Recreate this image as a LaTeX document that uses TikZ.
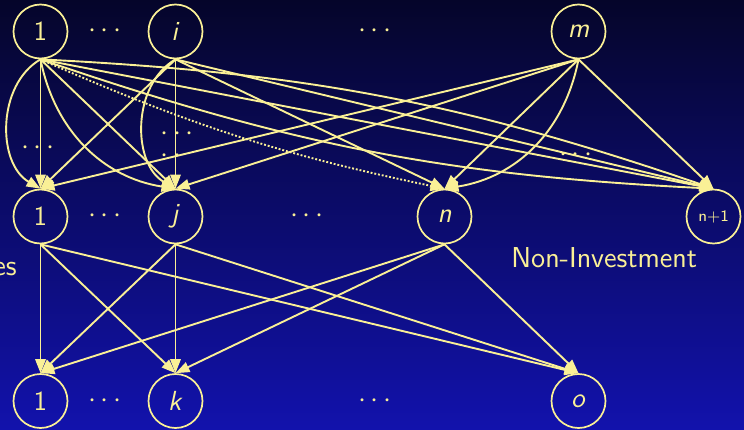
\documentclass[tikz,border=0pt]{standalone}
\usepackage{fontspec}
\usepackage{tikz}
\usetikzlibrary{arrows.meta}
\definecolor{chalk}{RGB}{250,240,150}
\definecolor{navytop}{RGB}{5,5,42}
\definecolor{navybot}{RGB}{18,18,172}

\begin{document}
\begin{tikzpicture}[x=0.5pt, y=-0.5pt,
		unit/.style={draw=chalk, circle, line width=0.85pt, minimum size=27pt, inner sep=0pt, text=chalk, font=\fontsize{13.8}{16}\sffamily},
		gap/.style={text=chalk, inner sep=0pt, font=\fontsize{14.4}{11}\selectfont},
		flow/.style={draw=chalk, line width=0.95pt, -{Triangle[length=7pt,width=5.2pt]}},
		faint/.style={dash pattern=on 0.95pt off 0.95pt}]
			\shade[top color=navytop, bottom color=navybot] (0,0) rectangle (744,429);
			\useasboundingbox (0,0) rectangle (744,429);

			\draw (40.5, 31.5) 	node[unit] 	(t1) 		{1};
			\draw (175.5, 31.5) 	node[unit] 	(ti) 		{\textsl{i}};
			\draw (578.5, 31.5) 	node[unit] 	(tm) 		{\textsl{m}};
			\draw (40.5, 216.5) 	node[unit] 	(m1) 		{1};
			\draw (175.5, 216.5) 	node[unit] 	(mj) 		{\textsl{j}};
			\draw (444.5, 216.5) 	node[unit] 	(mn) 		{\textsl{n}};
			\draw (713.5, 216.5) 	node[unit, font=\fontsize{8}{10}\sffamily] 	(mn1) 	{n+1};
			\draw (40.5, 401) 	node[unit] 	(b1) 		{1};
			\draw (175.5, 401) 	node[unit] 	(bk) 		{\textsl{k}};
			\draw (578.5, 401) 	node[unit] 	(bo) 		{\textsl{o}};

			\draw (105, 31) 	node[gap] 	(topa) 		{$\cdots$};
			\draw (375, 31) 	node[gap] 	(topb) 		{$\cdots$};
			\draw (105, 216) 	node[gap] 	(mida) 		{$\cdots$};
			\draw (307, 216) 	node[gap] 	(midb) 		{$\cdots$};
			\draw (105, 401) 	node[gap] 	(bota) 		{$\cdots$};
			\draw (375, 401) 	node[gap] 	(botb) 		{$\cdots$};
			\draw (38, 148) 	node[gap] 	(manya) 	{$\cdots$};
			\draw (160, 145) 	node[gap, anchor=west, align=left] 	(manyb) 	{$\cdots$\\$\mathinner{\cdotp\cdotp}$};
			\draw (576, 155) 	node[gap] 	(manyd) 	{$\cdots$};

			\draw (511, 267) 	node[anchor=base west, gap, font=\fontsize{14.4}{17}\sffamily] 	(noninv) 	{Non-Investment};
			\draw (17, 275) 	node[anchor=base east, gap, font=\fontsize{14.4}{17}\sffamily] 	(cut) 		{es};

			\draw[flow] (t1.south) -- (m1.north);
			\draw[flow] (t1.south) to[bend right=60] (m1.north);
			\draw[flow] (t1.south) -- (mj.north);
			\draw[flow] (t1.south) to[bend right=35] (mj.north);
			\draw[flow, faint] (t1.south) to[bend right=6] (mn.north);
			\draw[flow] (t1.south) -- (mn1.north);
			\draw[flow] (t1.south) to[bend right=8] (mn1.north);
			\draw[flow] (t1.south) to[bend left=8] (mn1.north);
			\draw[flow] (ti.south) -- (m1.north);
			\draw[flow] (ti.south) -- (mj.north);
			\draw[flow] (ti.south) to[bend right=60] (mj.north);
			\draw[flow] (ti.south) -- (mn.north);
			\draw[flow] (ti.south) -- (mn1.north);
			\draw[flow] (tm.south) -- (m1.north);
			\draw[flow] (tm.south) -- (mj.north);
			\draw[flow] (tm.south) -- (mn.north);
			\draw[flow] (tm.south) to[bend left=35] (mn.north);
			\draw[flow] (tm.south) -- (mn1.north);

			\draw[flow] (m1.south) -- (b1.north);
			\draw[flow] (m1.south) -- (bk.north);
			\draw[flow] (m1.south) -- (bo.north);
			\draw[flow] (mj.south) -- (b1.north);
			\draw[flow] (mj.south) -- (bk.north);
			\draw[flow] (mj.south) -- (bo.north);
			\draw[flow] (mn.south) -- (b1.north);
			\draw[flow] (mn.south) -- (bk.north);
			\draw[flow] (mn.south) -- (bo.north);
		\end{tikzpicture}
\end{document}
